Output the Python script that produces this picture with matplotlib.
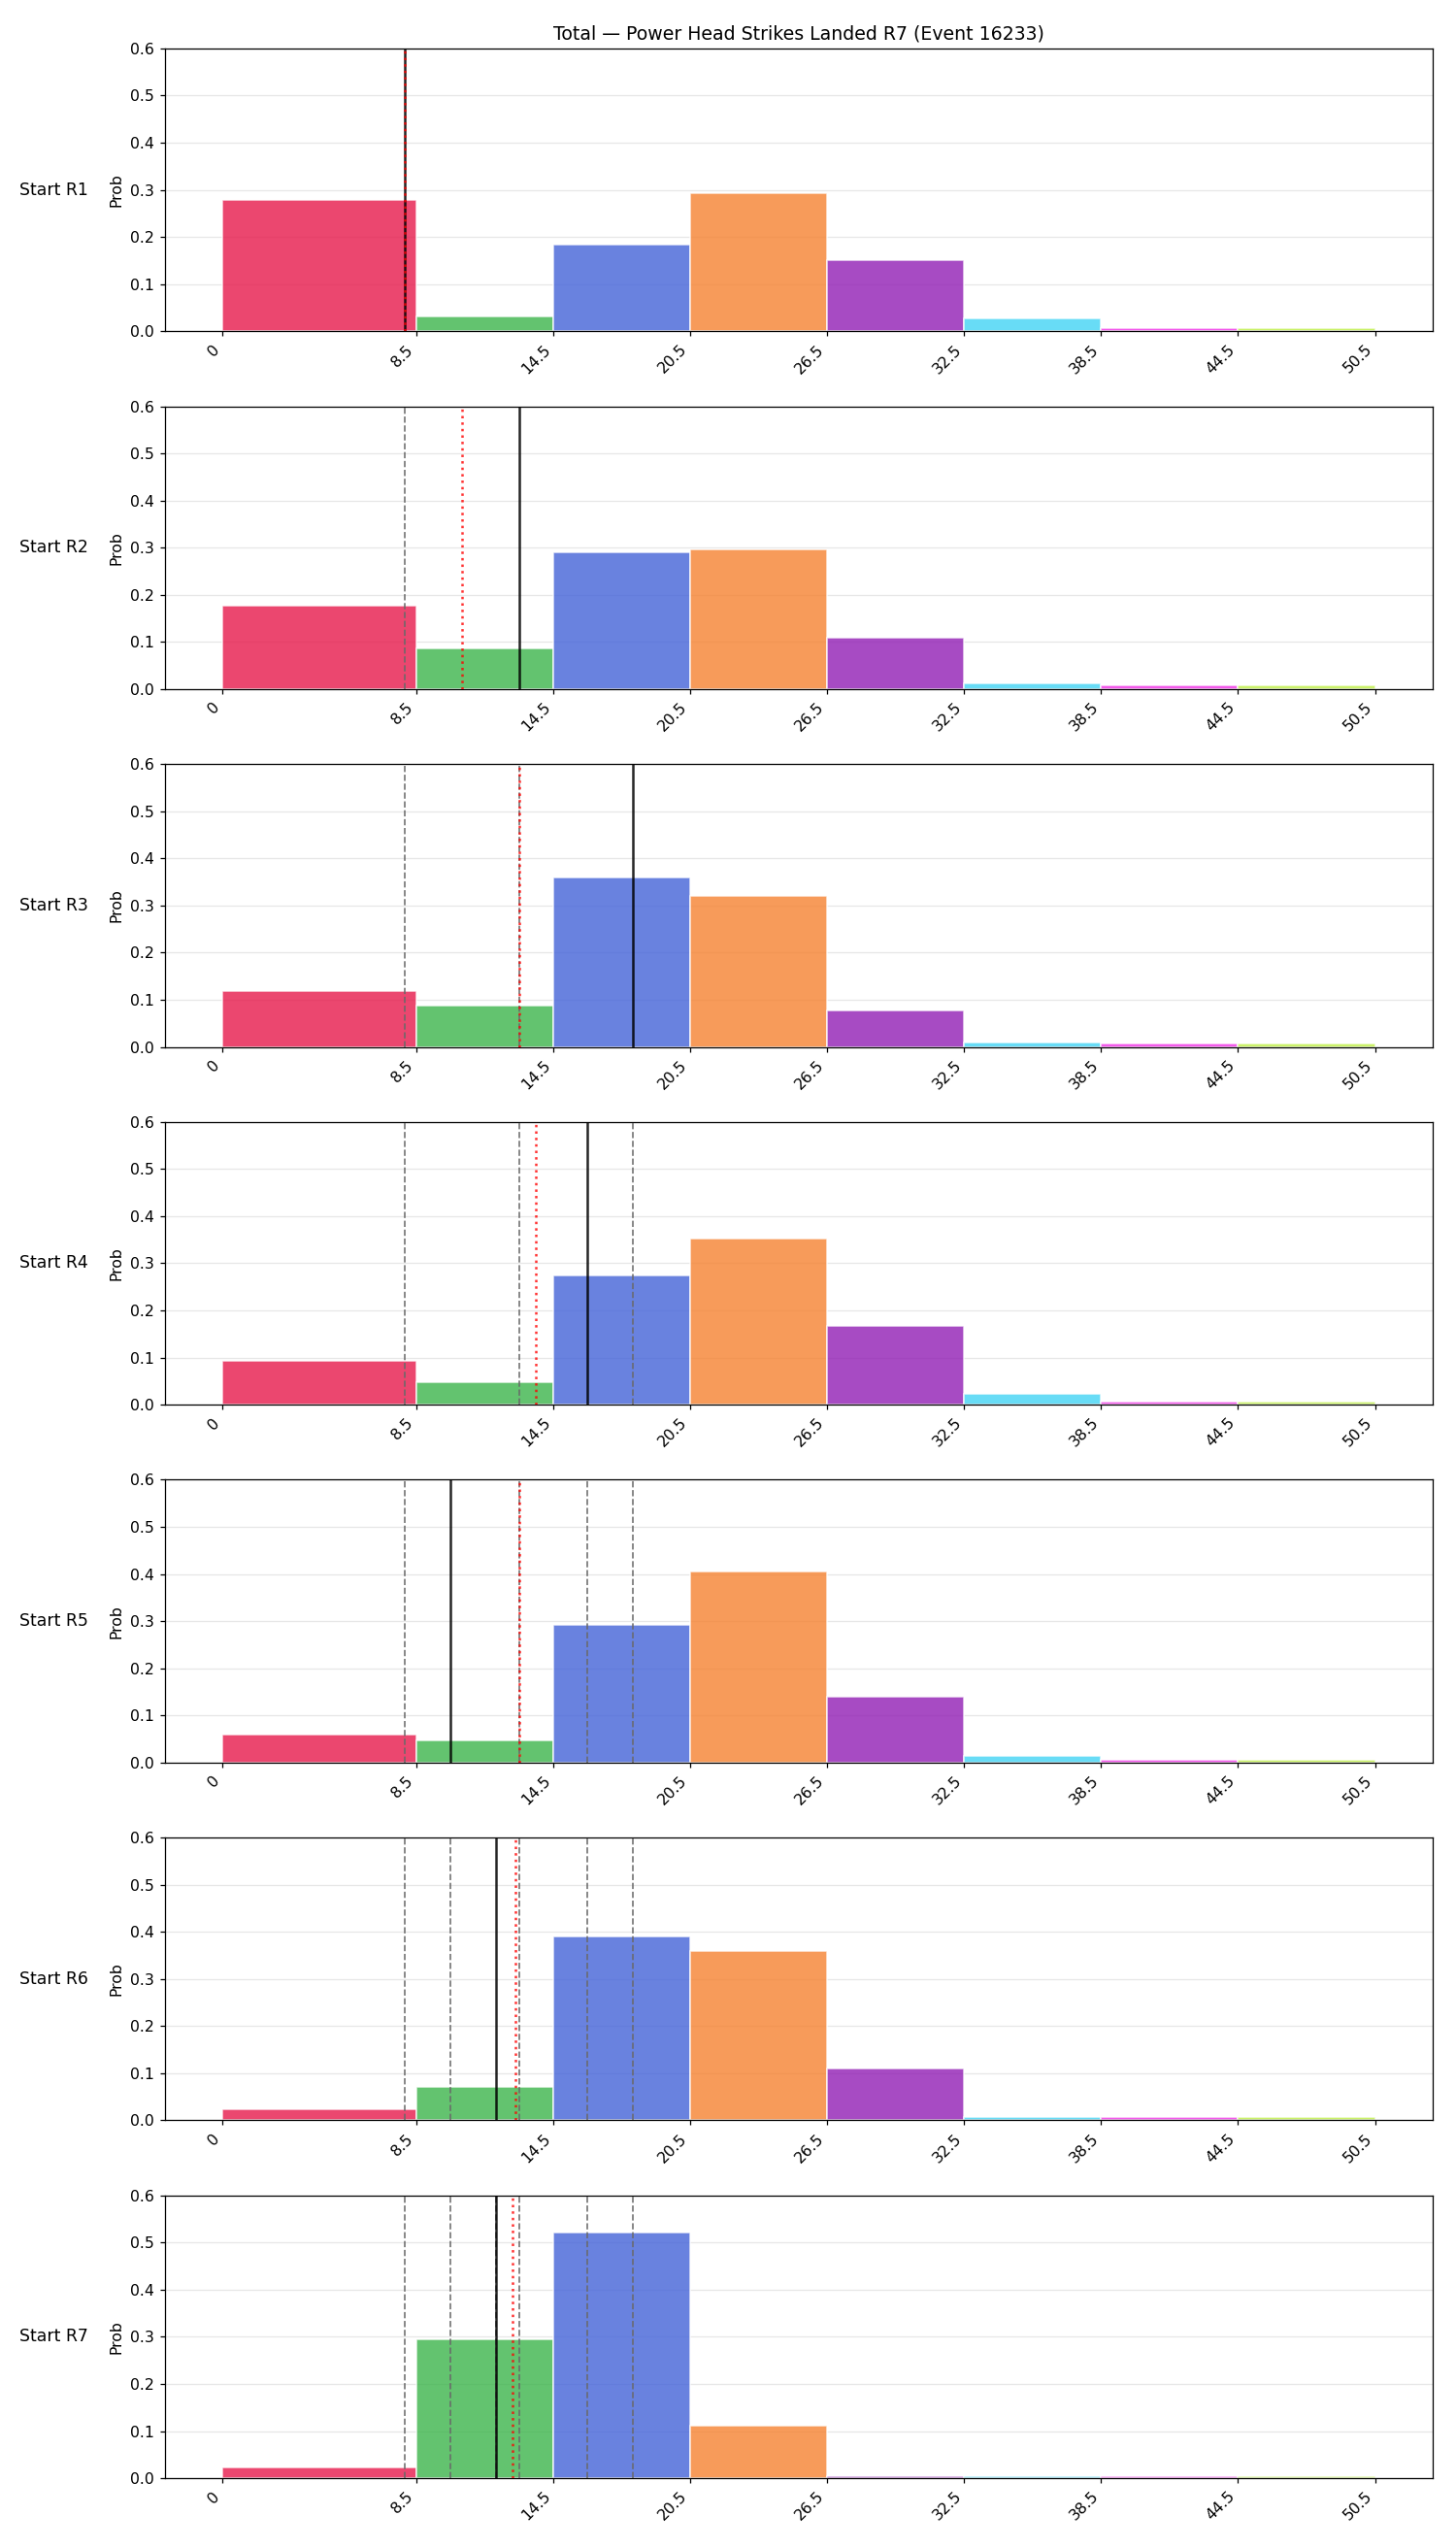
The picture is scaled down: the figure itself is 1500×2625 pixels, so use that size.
import numpy as np
import matplotlib.pyplot as plt

# bin edges of the strike-count buckets
bin_edges = [0, 8.5, 14.5, 20.5, 26.5, 32.5, 38.5, 44.5, 50.5]
tick_labels = ["0", "8.5", "14.5", "20.5", "26.5", "32.5", "38.5", "44.5", "50.5"]

rounds = ["Start R1", "Start R2", "Start R3", "Start R4", "Start R5", "Start R6", "Start R7"]

# probability per bucket, one list per starting round
prob_r1 = [0.279, 0.032, 0.183, 0.292, 0.150, 0.028, 0.0076, 0.0076]
prob_r2 = [0.177, 0.086, 0.291, 0.296, 0.108, 0.012, 0.0075, 0.0075]
prob_r3 = [0.119, 0.088, 0.359, 0.321, 0.077, 0.009, 0.0076, 0.007]
prob_r4 = [0.093, 0.048, 0.275, 0.353, 0.168, 0.023, 0.007, 0.007]
prob_r5 = [0.060, 0.047, 0.292, 0.406, 0.140, 0.014, 0.0062, 0.0062]
prob_r6 = [0.024, 0.071, 0.391, 0.360, 0.110, 0.007, 0.007, 0.007]
prob_r7 = [0.022, 0.295, 0.522, 0.112, 0.005, 0.005, 0.005, 0.005]
probs = [prob_r1, prob_r2, prob_r3, prob_r4, prob_r5, prob_r6, prob_r7]

# actual value at each round (solid), earlier rounds (dashed), running average (dotted)
actual = [8, 13, 18, 16, 10, 12, 12]
previous = [[], [8], [8, 13], [8, 13, 18], [8, 13, 18, 16], [8, 13, 18, 16, 10], [8, 13, 18, 16, 10, 12]]
running_avg = [8.0, 10.5, 13.0, 13.75, 13.0, 12.83, 12.71]

colors = ['#e6194b', '#3cb44b', '#4363d8', '#f58231', '#911eb4', '#42d4f4', '#f032e6', '#bfef45']

edges = np.array(bin_edges)
widths = np.diff(edges)

DPI = 113
fig, axes = plt.subplots(len(rounds), 1, figsize=(1500 / DPI, 2625 / DPI), dpi=DPI)
fig.subplots_adjust(left=0.113, right=0.984, top=0.981, bottom=0.0274, hspace=0.265)

for i, ax in enumerate(axes):
    ax.bar(edges[:-1], probs[i], width=widths, align='edge', color=colors,
           alpha=0.8, edgecolor='white', linewidth=1, zorder=2)
    for x in previous[i]:
        ax.axvline(x, color='dimgray', linestyle='--', linewidth=1.1, alpha=0.9, zorder=3)
    ax.axvline(actual[i], color='black', linewidth=1.6, alpha=0.85, zorder=4)
    ax.axvline(running_avg[i], color='red', linestyle=':', linewidth=1.6, alpha=0.8, zorder=5)

    ax.set_ylim(0, 0.6)
    ax.set_yticks(np.arange(0, 0.61, 0.1))
    ax.set_xticks(bin_edges)
    ax.set_xticklabels(tick_labels, rotation=45, ha='right')
    ax.set_ylabel("Prob")
    ax.grid(axis='y', alpha=0.3, zorder=0)
    ax.set_axisbelow(True)
    ax.text(-0.06, 0.5, rounds[i], transform=ax.transAxes, ha='right', va='center', fontsize=11)

axes[0].set_title("Total — Power Head Strikes Landed R7 (Event 16233)")

fig.savefig("out.png", dpi=DPI)
